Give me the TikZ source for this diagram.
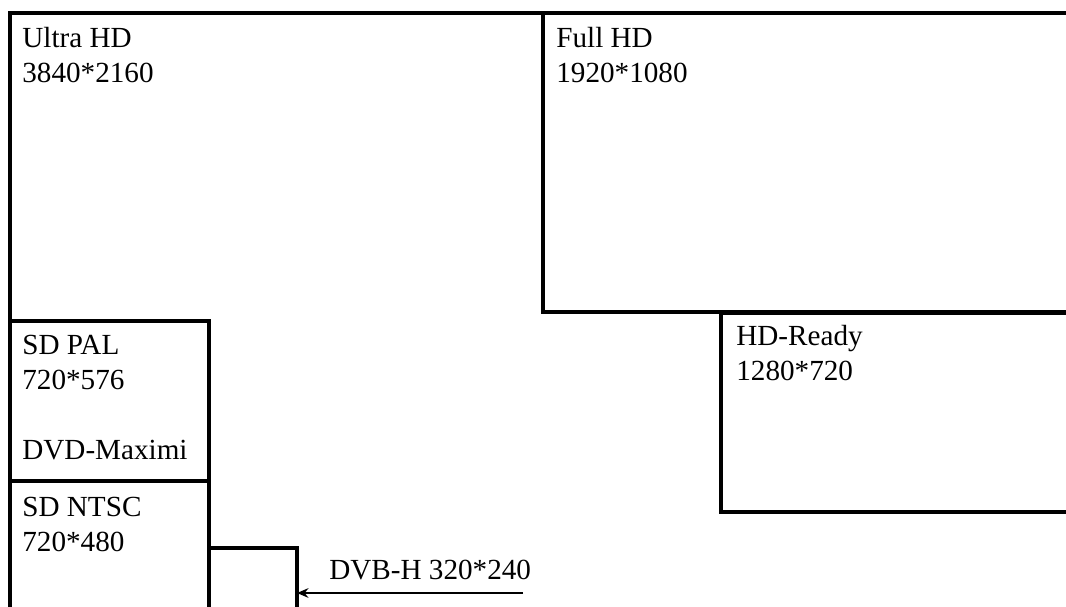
\documentclass[tikz,border=0pt]{standalone}
\usepackage{fontspec}
\setmainfont{Liberation Serif}
\usetikzlibrary{arrows.meta}
\begin{document}
\begin{tikzpicture}[x=0.02cm, y=-0.02cm,
    box/.style={draw, line width=2pt},
    lbl/.style={anchor=north west, align=left, inner sep=0pt,
      font=\fontsize{16.6}{19.9}\selectfont},
    arr/.style={-{Stealth[length=6.5pt, width=5.5pt]}, line width=1.2pt}
  ]
    \useasboundingbox (0,0) rectangle (1066,606);
    \clip (0,0) rectangle (1066,606);
    % resolution frames, largest first
    \draw[box] (10,13) rectangle (1100,650);
    \draw[box] (543,13) rectangle (1100,312);
    \draw[box] (721,313) rectangle (1100,512);
    \draw[box] (10,321) rectangle (209,481);
    \draw[box] (10,481) rectangle (209,650);
    \draw[box] (209,548) rectangle (297,650);
    \coordinate (dvbh) at (297,548);
    % labels
    \node[lbl] (uhd) at (22,27) {Ultra HD\\3840*2160};
    \node[lbl] (fhd) at (556,27) {Full HD\\1920*1080};
    \node[lbl] (hdr) at (736,325) {HD-Ready\\1280*720};
    \node[lbl] (pal) at (22,335) {SD PAL\\720*576\\[19.9pt]DVD-Maximi};
    \node[lbl] (ntsc) at (22,497) {SD NTSC\\720*480};
    \node[lbl, anchor=base west] (dvbhlbl) at (329,579) {DVB-H 320*240};
    % pointer to the DVB-H frame
    \coordinate (tail) at (523,593);
    \draw[arr] (tail) -- (tail -| dvbh);
  \end{tikzpicture}
\end{document}
